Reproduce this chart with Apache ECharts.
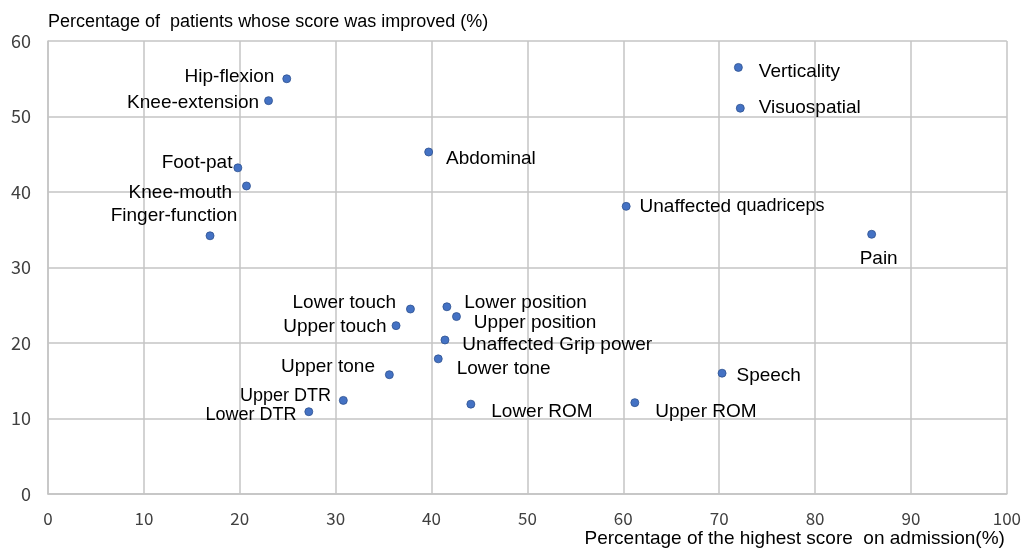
<!DOCTYPE html>
<html><head><meta charset="utf-8">
<script src="https://cdn.jsdelivr.net/npm/echarts@6/dist/echarts.min.js"></script>
<style>html,body{margin:0;padding:0;background:#fff}#c{width:1024px;height:549px}</style>
</head><body><div id="c"></div>
<script>
// Data
const names = ["Hip-flexion","Knee-extension","Foot-pat","Knee-mouth","Finger-function","Abdominal",
  "Verticality","Visuospatial","Unaffected quadriceps","Pain",
  "Lower touch","Lower position","Upper position","Upper touch","Unaffected Grip power","Lower tone",
  "Upper tone","Upper DTR","Lower DTR","Lower ROM","Upper ROM","Speech"];
const xValues = [24.9,23.0,19.8,20.7,16.9,39.7, 72.0,72.2,60.3,85.9, 37.8,41.6,42.6,36.3,41.4,40.7, 35.6,30.8,27.2,44.1,61.2,70.3];
const yValues = [55.0,52.1,43.2,40.8,34.2,45.3, 56.5,51.1,38.1,34.4, 24.5,24.8,23.5,22.3,20.4,17.9, 15.8,12.4,10.9,11.9,12.1,16.0];
const xTicks = [0,10,20,30,40,50,60,70,80,90,100];
const yTicks = [0,10,20,30,40,50,60];
const xTitle = "Percentage of the highest score  on admission(%)";
const yTitle = "Percentage of  patients whose score was improved (%)";

// Label layout (style only): [position, dx, dy, fontSize]
const labelLayout = {
  "Hip-flexion":["left",-8,-2,19],"Knee-extension":["left",-5,2,19],"Foot-pat":["left",-1,-5,19],
  "Knee-mouth":["left",-10,7,19],"Finger-function":["top",-36,-6,19],"Abdominal":["right",13,7,19],
  "Verticality":["right",16,4,19],"Visuospatial":["right",14,0,19],"Unaffected quadriceps":["right",9,0,19],
  "Pain":["bottom",7,11,19],"Lower touch":["left",-10,-6,19],"Lower position":["right",13,-4,19],
  "Upper position":["right",13,6,19],"Upper touch":["left",-5,1,19],"Unaffected Grip power":["right",13,5,19],
  "Lower tone":["right",14,10,19],"Upper tone":["left",-10,-8,19],"Upper DTR":["left",-8,-4,18],
  "Lower DTR":["left",-8,3,18],"Lower ROM":["right",16,8,19],"Upper ROM":["right",16,9,19],"Speech":["right",10,3,19]
};

const FONT = "Liberation Sans, Arial, sans-serif";
const TICKFONT = "Noto Sans CJK JP, sans-serif";
const points = names.map((n,i)=>{
  const l = labelLayout[n];
  const lab = {show:true, position:l[0], distance:0, offset:[l[1],l[2]], fontSize:l[3]};
  if (n === "Unaffected quadriceps") {
    lab.formatter = "{a|Unaffected }{b|quadriceps}";
  }
  return {name:n, value:[xValues[i], yValues[i]], label:lab};
});

const chart = echarts.init(document.getElementById('c'), null, {renderer:'canvas'});
const gridColor = '#c4c4c4';
chart.setOption({
  animation:false,
  grid:{left:48,right:15,top:41,bottom:55,containLabel:false},
  xAxis:{type:'value',min:xTicks[0],max:xTicks[xTicks.length-1],interval:xTicks[1]-xTicks[0],
    axisLine:{show:true,lineStyle:{color:gridColor,width:1.5}},axisTick:{show:false},
    splitLine:{show:true,lineStyle:{color:gridColor,width:1.5}},
    axisLabel:{color:'#404040',fontSize:17,margin:16,fontFamily:TICKFONT},
    name:xTitle,nameLocation:'end',nameGap:-2,
    nameTextStyle:{color:'#000',fontSize:19,fontFamily:FONT,align:'right',verticalAlign:'top',padding:[35,0,0,0]}},
  yAxis:{type:'value',min:yTicks[0],max:yTicks[yTicks.length-1],interval:yTicks[1]-yTicks[0],
    axisLine:{show:true,lineStyle:{color:gridColor,width:1.5}},axisTick:{show:false},
    splitLine:{show:true,lineStyle:{color:gridColor,width:1.5}},
    axisLabel:{color:'#404040',fontSize:18,margin:17,fontFamily:TICKFONT},
    name:yTitle,nameLocation:'end',nameGap:10,
    nameTextStyle:{color:'#000',fontSize:18,fontFamily:FONT,align:'left',verticalAlign:'bottom'}},
  series:[{
    type:'scatter',symbol:'circle',symbolSize:8,
    itemStyle:{color:'#4472C4',borderColor:'#2F528F',borderWidth:0.8,opacity:1},
    label:{color:'#000',fontSize:19,fontFamily:FONT,formatter:'{b}',
      rich:{a:{fontSize:19,fontFamily:FONT,color:'#000'},b:{fontSize:18,fontFamily:FONT,color:'#000'}}},
    emphasis:{disabled:true},
    data:points
  }]
});
</script></body></html>
